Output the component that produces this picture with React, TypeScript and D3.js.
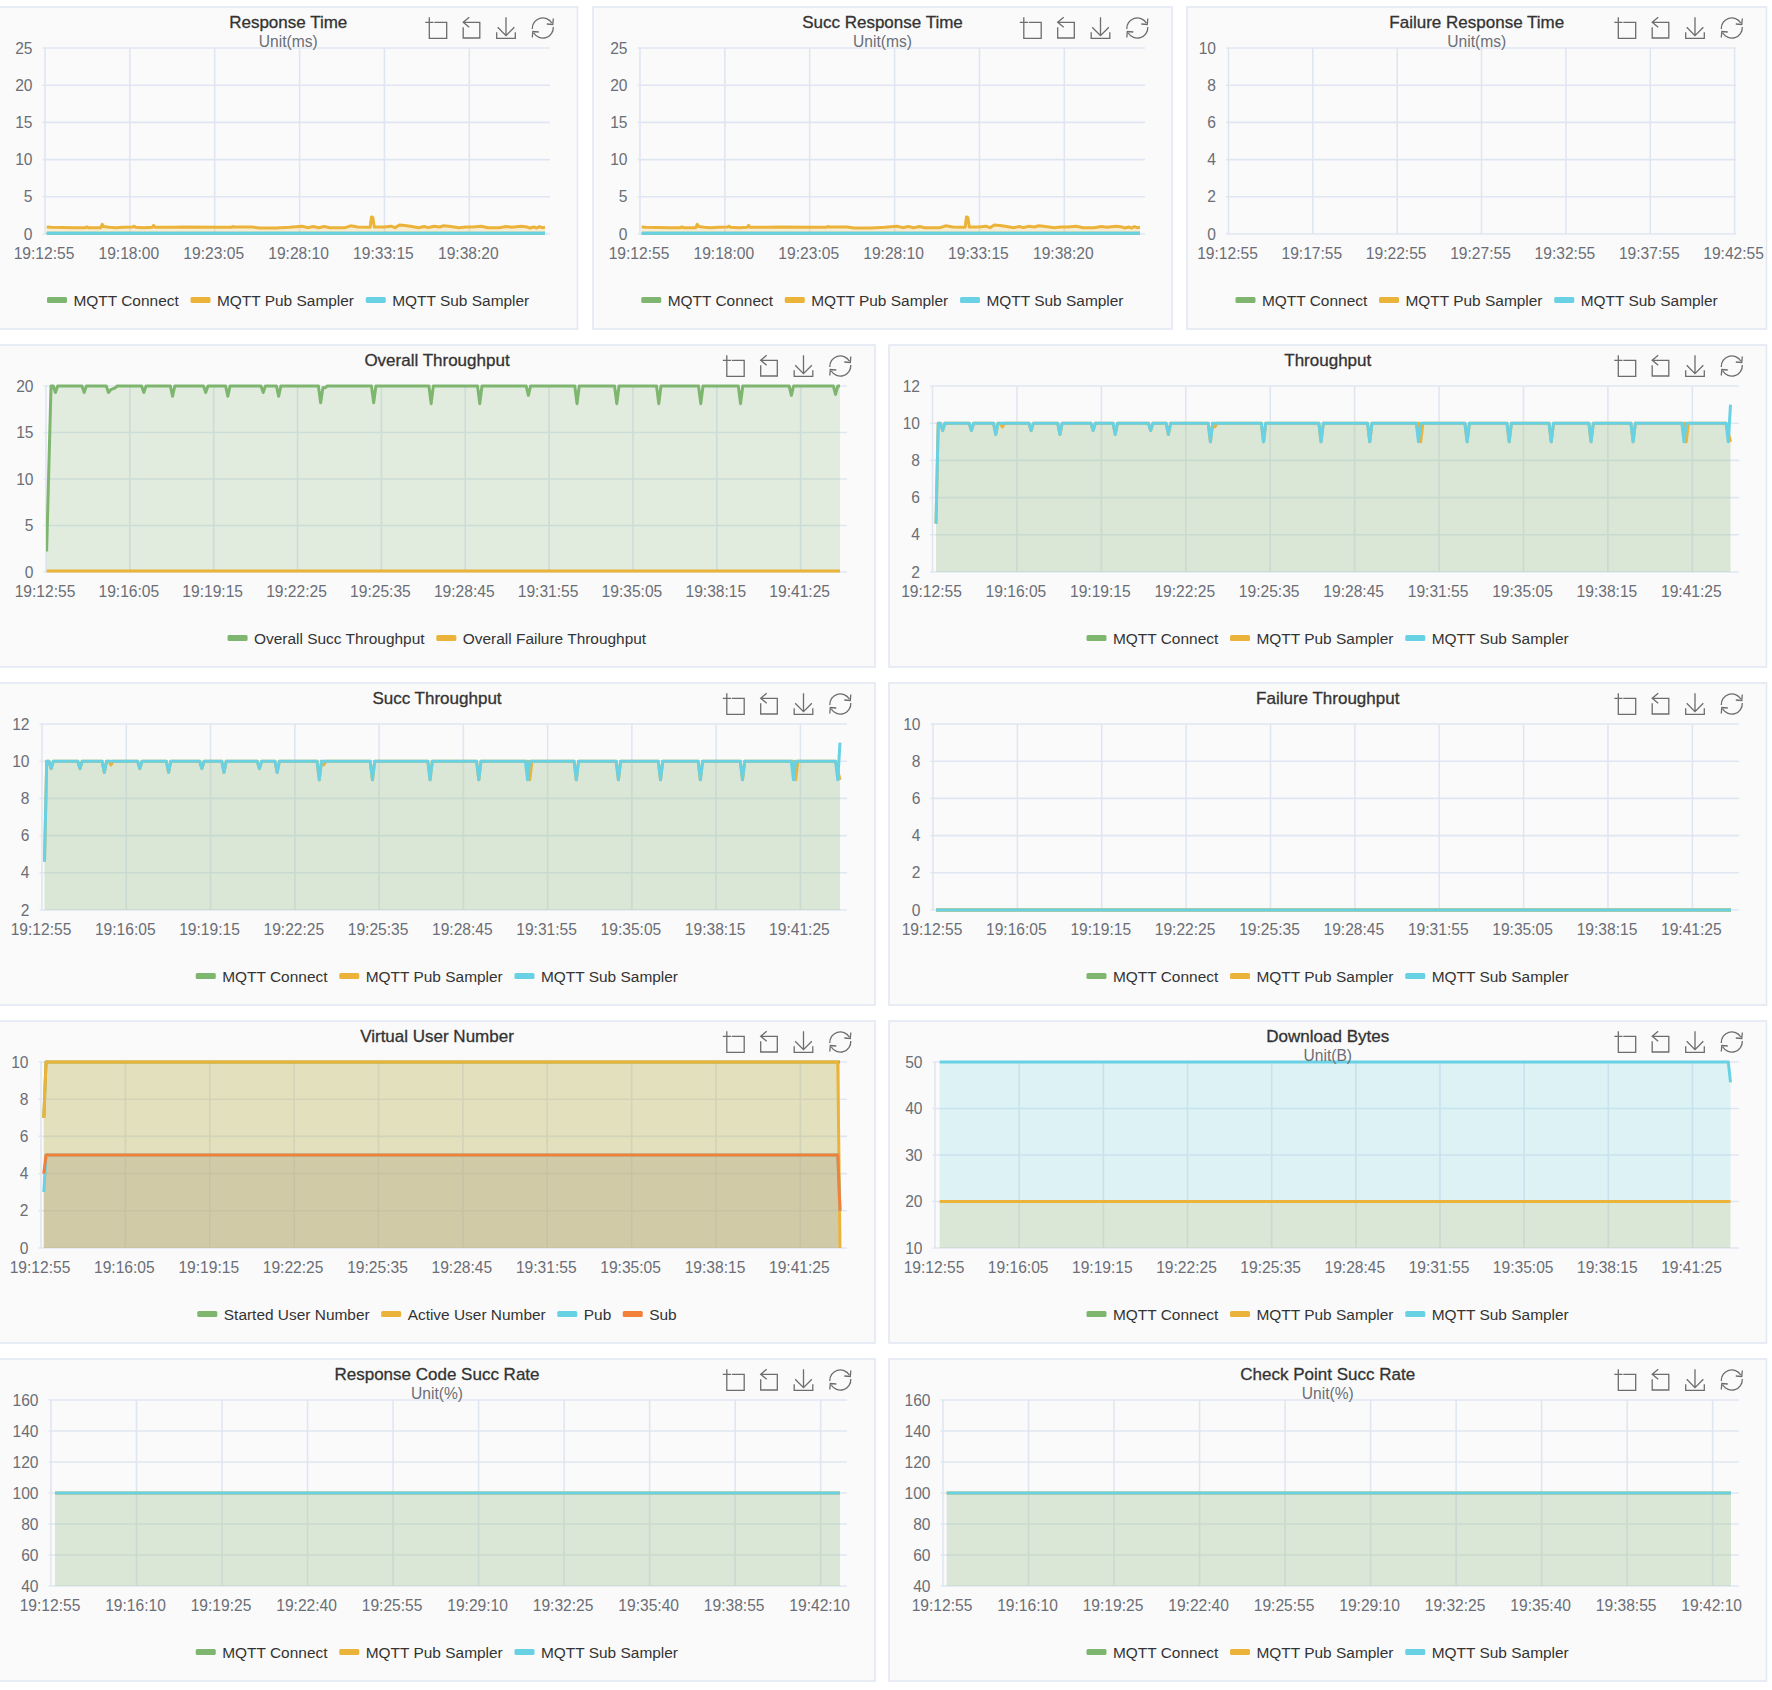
import React from 'react';
import * as d3 from 'd3';

type Pt = [number, number];

const width = 1772;
const height = 1690;
const font = '"Liberation Sans", Arial, sans-serif';
const fontSize = 15.6;
const legendSize = 15.45;
const titleSize = 17;

const GREEN = '#7eb56f';
const ORANGE = '#ecb33a';
const CYAN = '#68d1e3';
const RED = '#f28037';

// x axis labels, one per tick
const ticks305 = ['19:12:55', '19:18:00', '19:23:05', '19:28:10', '19:33:15', '19:38:20'];
const ticks300 = ['19:12:55', '19:17:55', '19:22:55', '19:27:55', '19:32:55', '19:37:55', '19:42:55'];
const ticks190 = ['19:12:55', '19:16:05', '19:19:15', '19:22:25', '19:25:35', '19:28:45', '19:31:55', '19:35:05', '19:38:15', '19:41:25'];
const ticks195 = ['19:12:55', '19:16:10', '19:19:25', '19:22:40', '19:25:55', '19:29:10', '19:32:25', '19:35:40', '19:38:55', '19:42:10'];

const samplerLabels = ['MQTT Connect', 'MQTT Pub Sampler', 'MQTT Sub Sampler'];

// series are [sample index, value], one sample every 5s, flat runs keep only their ends
const pubResponse: Pt[] = [
  [0, 0.95], [3, 0.9], [20, 0.85], [28, 0.85], [29, 0.95], [30, 0.85], [39, 0.85], [40, 1.3], [41, 1.0], [45, 0.9],
  [50, 0.85], [55, 0.9], [62, 0.95], [63, 1.05], [64, 0.9], [70, 0.85], [76, 0.9], [77, 1.15], [78, 0.9], [90, 0.9],
  [100, 0.95], [120, 0.9], [133, 0.9], [134, 1.0], [135, 0.95], [148, 0.95], [153, 0.8], [165, 0.8], [175, 0.9],
  [184, 1.05], [188, 0.85], [192, 1.0], [196, 0.85], [200, 1.0], [204, 0.85], [215, 0.85], [219, 1.1], [224, 0.95],
  [231, 0.9], [233, 0.9], [234, 2.3], [235, 2.2], [236, 0.95], [243, 0.95], [248, 1.05], [251, 0.85], [254, 1.2],
  [258, 1.15], [263, 1.0], [268, 0.85], [272, 1.0], [275, 0.85], [279, 1.05], [283, 0.95], [286, 1.1], [291, 1.0],
  [297, 0.85], [302, 0.95], [307, 0.95], [313, 1.05], [318, 0.85], [326, 0.85], [331, 1.0], [335, 0.9], [342, 1.05],
  [346, 0.95], [348, 0.8], [351, 0.95], [353, 0.8], [355, 1.0], [357, 0.85], [359, 0.9],
];
const connectResponse: Pt[] = [[0, 0.1], [359, 0.1]];
const subResponse: Pt[] = [[0, 0.1], [359, 0.1]];

const overallSucc: Pt[] = [
  [0, 2.2], [2, 20], [3, 20], [4, 19.3], [5, 20], [16, 20], [17, 19.3], [18, 20], [27, 20], [28, 19.3], [29, 19.6], [31, 19.8], [32, 20],
  [43, 20], [44, 19.3], [45, 20], [56, 20], [57, 18.9], [58, 20], [71, 20], [72, 19.3], [73, 20], [81, 20], [82, 18.9], [83, 20],
  [97, 20], [98, 19.3], [99, 20], [104, 20], [105, 18.9], [106, 20], [123, 20], [124, 18.2], [125, 19.8], [126, 19.8], [127, 20],
  [147, 20], [148, 18.2], [149, 20], [173, 20], [174, 18.1], [175, 20], [195, 20], [196, 18.1], [197, 20],
  [217, 20], [218, 19], [219, 20], [239, 20], [240, 18.1], [241, 20], [257, 20], [258, 18.1], [259, 20],
  [276, 20], [277, 18.1], [278, 20], [295, 20], [296, 18.1], [297, 20], [313, 20], [314, 18.1], [315, 20],
  [336, 20], [337, 19], [338, 20], [356, 20], [357, 19.1], [358, 20], [359, 20],
];
const overallFailure: Pt[] = [[0, 0.1], [359, 0.1]];

const connectThroughput: Pt[] = [[0, 0], [359, 0]];
const pubThroughput: Pt[] = [
  [0, 4.6], [1, 10], [2, 10], [3, 9.6], [4, 10], [15, 10], [16, 9.6], [17, 10], [26, 10], [27, 9.4], [28, 10], [29, 10], [30, 9.8], [31, 10],
  [42, 10], [43, 9.6], [44, 10], [55, 10], [56, 9.4], [57, 10], [70, 10], [71, 9.6], [72, 10], [80, 10], [81, 9.4], [82, 10],
  [96, 10], [97, 9.6], [98, 10], [104, 10], [105, 9.4], [106, 10], [123, 10], [124, 9], [125, 10], [126, 9.8], [127, 10],
  [147, 10], [148, 9], [149, 10], [173, 10], [174, 9], [175, 10], [195, 10], [196, 9], [197, 10],
  [218, 10], [219, 9], [220, 10], [239, 10], [240, 9], [241, 10], [258, 10], [259, 9], [260, 10],
  [277, 10], [278, 9], [279, 10], [295, 10], [296, 9], [297, 10], [314, 10], [315, 9], [316, 10],
  [338, 10], [339, 9], [340, 10], [357, 10], [359, 9],
];
const subThroughput: Pt[] = [
  [0, 4.6], [1, 10], [2, 10], [3, 9.6], [4, 10], [15, 10], [16, 9.6], [17, 10], [26, 10], [27, 9.4], [28, 10],
  [42, 10], [43, 9.6], [44, 10], [55, 10], [56, 9.4], [57, 10], [70, 10], [71, 9.6], [72, 10], [80, 10], [81, 9.4], [82, 10],
  [96, 10], [97, 9.6], [98, 10], [104, 10], [105, 9.4], [106, 10], [123, 10], [124, 9], [125, 10],
  [147, 10], [148, 9], [149, 10], [173, 10], [174, 9], [175, 10], [195, 10], [196, 9], [197, 10],
  [217, 10], [218, 9], [219, 10], [239, 10], [240, 9], [241, 10], [258, 10], [259, 9], [260, 10],
  [277, 10], [278, 9], [279, 10], [295, 10], [296, 9], [297, 10], [314, 10], [315, 9], [316, 10],
  [337, 10], [338, 9], [339, 10], [357, 10], [358, 9], [359, 11],
];

const connectFailure: Pt[] = [[0, 0], [359, 0]];
const pubFailure: Pt[] = [[0, 0], [359, 0]];
const subFailure: Pt[] = [[0, 0], [359, 0]];

const startedUsers: Pt[] = [[0, 7], [1, 10], [359, 10]];
const activeUsers: Pt[] = [[0, 7], [1, 10], [358, 10], [359, 0]];
const pubUsers: Pt[] = [[0, 3], [1, 5], [358, 5], [359, 2]];
const subUsers: Pt[] = [[0, 4], [1, 5], [358, 5], [359, 2]];

const connectDownload: Pt[] = [[0, 0], [359, 0]];
const pubDownload: Pt[] = [[0, 20], [359, 20]];
const subDownload: Pt[] = [[0, 50], [358, 50], [359, 45.6]];

const connectRate: Pt[] = [[0, 0], [359, 0]];
const pubRate: Pt[] = [[0, 100], [359, 100]];
const subRate: Pt[] = [[0, 100], [359, 100]];

// panel frames
const rowTops = [7, 345, 683, 1021, 1359];
const panelHeight = 322;
const plotTop = 41;
const plotBottom = 227;

type Series = { name: string; color: string; data: Pt[] };
type ChartDef = {
  title: string; unit?: string; row: number; px: [number, number]; plot: [number, number]; span: [number, number];
  yTicks: number[]; labels: string[]; step: number; count?: number; series: Series[];
};

const samplers = (a: Pt[], b: Pt[], c: Pt[]): Series[] => [
  { name: samplerLabels[0], color: GREEN, data: a },
  { name: samplerLabels[1], color: ORANGE, data: b },
  { name: samplerLabels[2], color: CYAN, data: c },
];

const charts: ChartDef[] = [
  { title: 'Response Time', unit: 'Unit(ms)', row: 0, px: [-1, 577.5], plot: [45, 550], span: [46.7, 545], yTicks: [0, 5, 10, 15, 20, 25], labels: ticks305, step: 61,
    series: samplers(connectResponse, pubResponse, subResponse) },
  { title: 'Succ Response Time', unit: 'Unit(ms)', row: 0, px: [593, 1172], plot: [640, 1145], span: [641.7, 1140], yTicks: [0, 5, 10, 15, 20, 25], labels: ticks305, step: 61,
    series: samplers(connectResponse, pubResponse, subResponse) },
  { title: 'Failure Response Time', unit: 'Unit(ms)', row: 0, px: [1187, 1766.5], plot: [1228.5, 1736], span: [1230, 1731], yTicks: [0, 2, 4, 6, 8, 10], labels: ticks300, step: 60, count: 361,
    series: samplers([], [], []) },
  { title: 'Overall Throughput', row: 1, px: [-1, 875], plot: [46, 847], span: [46.6, 840], yTicks: [0, 5, 10, 15, 20], labels: ticks190, step: 38,
    series: [
      { name: 'Overall Succ Throughput', color: GREEN, data: overallSucc },
      { name: 'Overall Failure Throughput', color: ORANGE, data: overallFailure },
    ] },
  { title: 'Throughput', row: 1, px: [889, 1766.5], plot: [932.5, 1739], span: [936, 1730.5], yTicks: [2, 4, 6, 8, 10, 12], labels: ticks190, step: 38,
    series: samplers(connectThroughput, pubThroughput, subThroughput) },
  { title: 'Succ Throughput', row: 2, px: [-1, 875], plot: [42, 847], span: [44.5, 840], yTicks: [2, 4, 6, 8, 10, 12], labels: ticks190, step: 38,
    series: samplers(connectThroughput, pubThroughput, subThroughput) },
  { title: 'Failure Throughput', row: 2, px: [889, 1766.5], plot: [933, 1739], span: [936, 1731], yTicks: [0, 2, 4, 6, 8, 10], labels: ticks190, step: 38,
    series: samplers(connectFailure, pubFailure, subFailure) },
  { title: 'Virtual User Number', row: 3, px: [-1, 875], plot: [41, 847], span: [43.8, 840], yTicks: [0, 2, 4, 6, 8, 10], labels: ticks190, step: 38,
    series: [
      { name: 'Started User Number', color: GREEN, data: startedUsers },
      { name: 'Active User Number', color: ORANGE, data: activeUsers },
      { name: 'Pub', color: CYAN, data: pubUsers },
      { name: 'Sub', color: RED, data: subUsers },
    ] },
  { title: 'Download Bytes', unit: 'Unit(B)', row: 3, px: [889, 1766.5], plot: [935, 1739], span: [939.7, 1730.5], yTicks: [10, 20, 30, 40, 50], labels: ticks190, step: 38,
    series: samplers(connectDownload, pubDownload, subDownload) },
  { title: 'Response Code Succ Rate', unit: 'Unit(%)', row: 4, px: [-1, 875], plot: [51, 847], span: [55, 840], yTicks: [40, 60, 80, 100, 120, 140, 160], labels: ticks195, step: 39,
    series: samplers(connectRate, pubRate, subRate) },
  { title: 'Check Point Succ Rate', unit: 'Unit(%)', row: 4, px: [889, 1766.5], plot: [943, 1739], span: [946.7, 1731], yTicks: [40, 60, 80, 100, 120, 140, 160], labels: ticks195, step: 39,
    series: samplers(connectRate, pubRate, subRate) },
];

const measureCtx = document.createElement('canvas').getContext('2d')!;
measureCtx.font = `${legendSize}px ${font}`;

const iconPaths = [
  { dx: -141.5, d: 'M-6.7 -10.7V10.3H10.7V-5.7H-1.7M-10.7 -5.7H-2.5' },
  { dx: -106, d: 'M-2.3 -10.7L-8.3 -5.7L-2.3 -0.7M-8.3 -5.7H8.3V10H-8.3V-0.7' },
  { dx: -71.5, d: 'M0 -10.7V7.7M-8.3 -0.7L0 7.7L8.3 -0.7M-9.3 4.3V10.3H9.3V4.3' },
  { dx: -34.7, d: 'M-10.5 1A10.5 10.5 0 0 1 9 -5M10.5 -9.5L10 -3.5L4 -4M10.5 -1A10.5 10.5 0 0 1 -9 5M-10.5 9.5L-10 3.5L-4 4' },
];

const Chart = ({ def, id }: { def: ChartDef; id: number }) => {
  const top = rowTops[def.row];
  const [pl, pr] = def.px;
  const [x0, x1] = def.plot;
  const y0 = top + plotTop;
  const y1 = top + plotBottom;
  const cx = (pl + pr) / 2;

  const tickScale = d3.scaleBand<number>().domain(d3.range(def.count ?? 363)).range([x0, x1]);
  const xScale = d3.scaleLinear().domain([0, 359]).range(def.span);
  const yScale = d3.scaleLinear()
    .domain([def.yTicks[0], def.yTicks[def.yTicks.length - 1]])
    .range([y1, y0]);
  const yMin = def.yTicks[0];

  const line = d3.line<Pt>().x(d => xScale(d[0])).y(d => yScale(d[1]));
  const area = d3.area<Pt>().x(d => xScale(d[0])).y0(y1).y1(d => yScale(d[1]));

  // legend is centred in the panel
  const swatchW = 20;
  const swatchGap = 6.5;
  const itemGap = 11.5;
  const widths = def.series.map(s => swatchW + swatchGap + measureCtx.measureText(s.name).width);
  const total = d3.sum(widths) + itemGap * (widths.length - 1);
  const legendY = top + 293;
  let legendX = cx - total / 2;

  const gridColor = '#e0e6f1';

  return (
    <g>
      <rect x={pl} y={top} width={pr - pl} height={panelHeight} fill="#fafafa" stroke="#e3e9f3" strokeWidth={1.6} />
      <clipPath id={`clip-${id}`}>
        <rect x={x0} y={y0 - 3} width={x1 - x0} height={y1 - y0 + 5} />
      </clipPath>

      {def.yTicks.map(t => (
        <g key={t}>
          <line x1={x0 - 2.5} x2={x1} y1={yScale(t)} y2={yScale(t)} stroke={gridColor} strokeWidth={1.6} />
          <text x={x0 - 12.5} y={yScale(t)} textAnchor="end" dominantBaseline="central" fill="#6b6e76"
            fontFamily={font} fontSize={fontSize}>{t}</text>
        </g>
      ))}
      {def.labels.map((label, i) => {
        const tx = tickScale(i * def.step) as number;
        return (
          <g key={label}>
            <line x1={tx} x2={tx} y1={y0} y2={y1} stroke={gridColor} strokeWidth={1.6} />
            <text x={tx - 1} y={y1 + 19.5} textAnchor="middle" dominantBaseline="central" fill="#6b6e76"
              fontFamily={font} fontSize={fontSize}>{label}</text>
          </g>
        );
      })}

      <g clipPath={`url(#clip-${id})`}>
        {def.series.map(s => (s.data.length > 0 && (d3.max(s.data, d => d[1]) as number) > yMin ? (
          <path key={s.name} d={area(s.data) as string} fill={s.color} fillOpacity={0.2} stroke="none" />
        ) : null))}
      </g>
      <g clipPath={`url(#clip-${id})`}>
        {def.series.map(s => (s.data.length > 0 ? (
          <path key={s.name} d={line(s.data) as string} fill="none" stroke={s.color} strokeWidth={3} strokeLinejoin="round" />
        ) : null))}
      </g>

      <text x={cx} y={top + 15} textAnchor="middle" dominantBaseline="central" fill="#333" stroke="#333" strokeWidth={0.3}
        fontFamily={font} fontSize={titleSize}>{def.title}</text>
      {def.unit && (
        <text x={cx} y={top + 34} textAnchor="middle" dominantBaseline="central" fill="#6b6e76"
          fontFamily={font} fontSize={fontSize}>{def.unit}</text>
      )}

      {iconPaths.map(icon => (
        <path key={icon.dx} transform={`translate(${pr + icon.dx},${top + 21})`} d={icon.d}
          fill="none" stroke="#6d6d6d" strokeWidth={1.3} />
      ))}

      {def.series.map((s, i) => {
        const ix = legendX;
        legendX += widths[i] + itemGap;
        return (
          <g key={s.name}>
            <rect x={ix} y={legendY - 3} width={swatchW} height={6} rx={1.5} fill={s.color} />
            <text x={ix + swatchW + swatchGap} y={legendY} dominantBaseline="central" fill="#333"
              fontFamily={font} fontSize={legendSize}>{s.name}</text>
          </g>
        );
      })}
    </g>
  );
};

const App = () => (
  <svg width={width} height={height} style={{ position: 'absolute', left: 0, top: 0, display: 'block', background: '#fff' }}>
    {charts.map((def, i) => <Chart key={def.title} def={def} id={i} />)}
  </svg>
);

export default App;
